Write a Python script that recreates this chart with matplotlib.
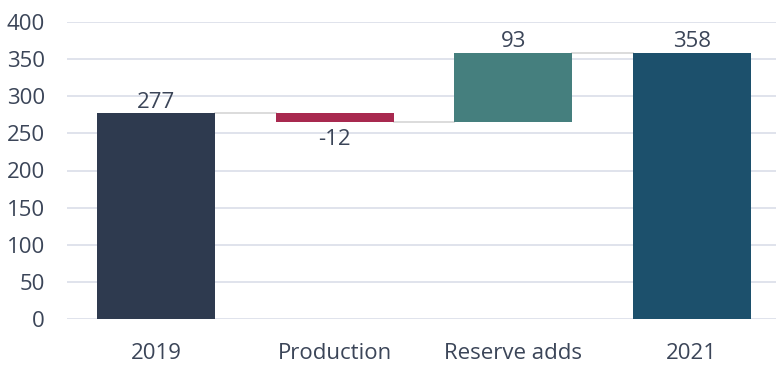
import matplotlib.pyplot as plt
import numpy as np

plt.rcParams['font.family'] = ['Open Sans', 'DejaVu Sans']

categories = ['2019', 'Production', 'Reserve adds', '2021']
changes = [277, -12, 93, 358]
is_total = [True, False, False, True]
colors = ['#2e3a4f', '#a8294f', '#457f7e', '#1c506c']
text_color = '#3b4558'

# waterfall bottoms/tops
bottoms, heights = [], []
running = 0
for v, tot in zip(changes, is_total):
    if tot:
        bottoms.append(0)
        heights.append(v)
        running = v
    else:
        bottoms.append(min(running, running + v))
        heights.append(abs(v))
        running += v

fig = plt.figure(figsize=(7.76, 3.65), dpi=100)
ax = fig.add_axes([67 / 776, 46 / 365, 714 / 776, 297 / 365])

x = np.arange(len(categories))
ax.bar(x, heights, bottom=bottoms, width=0.66, color=colors, zorder=3)

# connectors
level = 0
for i in range(len(categories) - 1):
    if is_total[i]:
        level = changes[i]
    else:
        level = level + changes[i]
    ax.plot([x[i] + 0.33, x[i + 1] - 0.33], [level, level], color='#d9d9d9', lw=1.3, zorder=2)

# labels
for i, v in enumerate(changes):
    if v < 0:
        ax.text(x[i], bottoms[i] - 9, str(v), ha='center', va='top', fontsize=16, color=text_color)
    else:
        ax.text(x[i], bottoms[i] + heights[i] + 1, str(v), ha='center', va='bottom', fontsize=16, color=text_color)

ax.set_xlim(-0.5, 3.5)
ax.set_ylim(0, 400)
ax.set_yticks(np.arange(0, 401, 50))
ax.set_xticks(x)
ax.set_xticklabels(categories)
ax.tick_params(axis='both', length=0, labelsize=16, colors=text_color)
ax.tick_params(axis='x', pad=17)
ax.tick_params(axis='y', pad=16)
ax.grid(axis='y', color='#dde0ea', lw=1.3, zorder=0)
for s in ax.spines.values():
    s.set_visible(False)

plt.savefig('out.png', dpi=100)
